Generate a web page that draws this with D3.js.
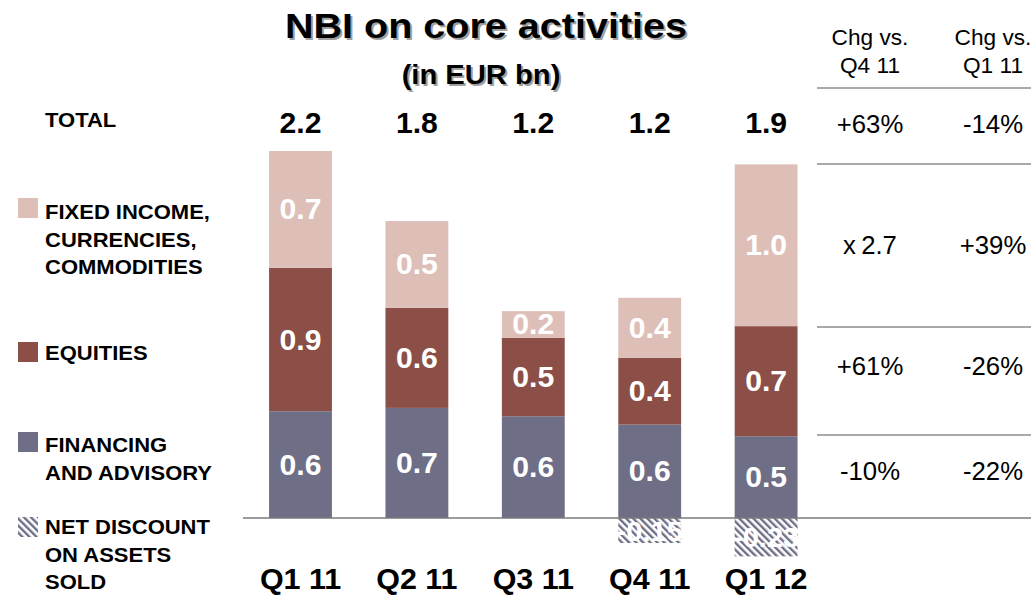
<!DOCTYPE html>
<html>
<head>
<meta charset="utf-8">
<script src="https://cdn.jsdelivr.net/npm/d3@7"></script>
<style>
  body { margin: 0; background: #fff; }
  svg { font-family: "Liberation Sans", Arial, sans-serif; }
</style>
</head>
<body>
<svg id="chart" width="1031" height="595"></svg>
<script>
// values (EUR bn)
var quarters = ["Q1 11", "Q2 11", "Q3 11", "Q4 11", "Q1 12"];
var financing = [0.64, 0.66, 0.61, 0.56, 0.49];
var equities = [0.86, 0.60, 0.47, 0.40, 0.66];
var fixedIncome = [0.70, 0.52, 0.16, 0.36, 0.97];
var netDiscount = [0, 0, 0, -0.15, -0.23];

var chgHeaders = [["Chg vs.", "Q4 11"], ["Chg vs.", "Q1 11"]];
var chgVsQ4 = ["+63%", "x\u20092.7", "+61%", "-10%"];
var chgVsQ1 = ["-14%", "+39%", "-26%", "-22%"];

var legendItems = [
    {key: "fixed", lines: ["FIXED INCOME,", "CURRENCIES,", "COMMODITIES"]},
    {key: "equities", lines: ["EQUITIES"]},
    {key: "financing", lines: ["FINANCING", "AND ADVISORY"]},
    {key: "discount", lines: ["NET DISCOUNT", "ON ASSETS", "SOLD"]}
];

var colors = {fixed: "#ddbfb7", equities: "#8b4f47", financing: "#6e6e87", discount: "url(#hatch)"};

var svg = d3.select("#chart");

// hatch for the net discount bars
var pat = svg.append("defs").append("pattern")
    .attr("id", "hatch")
    .attr("patternUnits", "userSpaceOnUse")
    .attr("width", 5).attr("height", 5)
    .attr("patternTransform", "rotate(-45)");
pat.append("rect").attr("width", 5).attr("height", 5).attr("fill", "#fff");
pat.append("rect").attr("width", 2.4).attr("height", 5).attr("fill", "#6e6e87");

function stretchText(g, x, y, txt, size, weight, anchor, sx, fill)
{
    return g.append("text")
        .attr("transform", "translate(" + x + "," + y + ") scale(" + sx + ",1)")
        .style("font-size", size + "px")
        .style("font-weight", weight)
        .style("text-anchor", anchor)
        .attr("fill", fill || "#000")
        .text(txt);
}

var x = d3.scaleBand()
    .domain(quarters)
    .range([242.3, 824.3])
    .paddingInner(0.46)
    .paddingOuter(0.23);

var y = d3.scaleLinear()
    .domain([0, 2.2])
    .range([518, 151]);

// title with soft shadow
var title = svg.append("g");
[["#a0a0a0", 2], ["#000", 0]].forEach(function (s) {
    stretchText(title, 486 + s[1], 38 + s[1], "NBI on core activities", 35, "bold", "middle", 1.13, s[0]);
    stretchText(title, 481 + s[1], 84 + s[1], "(in EUR bn)", 27, "bold", "middle", 1.08, s[0]);
});

// stacked bars
var table = quarters.map(function (q, i) {
    return {q: q, financing: financing[i], equities: equities[i], fixed: fixedIncome[i]};
});
var series = d3.stack().keys(["financing", "equities", "fixed"])(table);

var bars = svg.append("g");
series.forEach(function (s) {
    var g = bars.append("g");
    g.selectAll("rect")
        .data(s)
        .enter()
        .append("rect")
        .attr("x", function (d) { return x(d.data.q); })
        .attr("y", function (d) { return y(d[1]); })
        .attr("width", x.bandwidth())
        .attr("height", function (d) { return y(d[0]) - y(d[1]); })
        .attr("fill", colors[s.key]);
});

// negative bars
bars.append("g").selectAll("rect")
    .data(quarters.filter(function (q, i) { return netDiscount[i] < 0; }))
    .enter()
    .append("rect")
    .attr("x", function (q) { return x(q); })
    .attr("y", y(0))
    .attr("width", x.bandwidth())
    .attr("height", function (q) { return y(netDiscount[quarters.indexOf(q)]) - y(0); })
    .attr("fill", colors.discount);

// segment labels
var labels = svg.append("g");
series.forEach(function (s) {
    s.forEach(function (d) {
        var cy = (y(d[0]) + y(d[1])) / 2;
        stretchText(labels, x(d.data.q) + x.bandwidth() / 2, cy + 10, d3.format(".1f")(d[1] - d[0]),
            29, "bold", "middle", 1.04, "#fff");
    });
});
quarters.forEach(function (q, i) {
    if (netDiscount[i] < 0) {
        var cy = (y(0) + y(netDiscount[i])) / 2;
        stretchText(labels, x(q) + x.bandwidth() / 2, cy + 10, "-" + Math.abs(netDiscount[i]).toFixed(2),
            28, "bold", "middle", 1.04, "#fff");
    }
});

// totals row
var totals = svg.append("g");
stretchText(totals, 45, 127, "TOTAL", 20, "bold", "start", 1.1);
quarters.forEach(function (q, i) {
    var t = financing[i] + equities[i] + fixedIncome[i] + netDiscount[i];
    stretchText(totals, x(q) + x.bandwidth() / 2, 133, d3.format(".1f")(t), 29, "bold", "middle", 1.04);
});

// base line
svg.append("line")
    .attr("x1", 243).attr("x2", 1031)
    .attr("y1", y(0)).attr("y2", y(0))
    .attr("stroke", "#7a7a7a").attr("stroke-width", 1.5);

// category axis
var axis = svg.append("g")
    .attr("transform", "translate(0," + y(0) + ")")
    .call(d3.axisBottom(x).tickSize(0).tickPadding(50));
axis.select(".domain").remove();
axis.selectAll("text")
    .attr("transform", "scale(1.05,1)")
    .style("font-size", "29px")
    .style("font-weight", "bold")
    .style("font-family", "'Liberation Sans', Arial, sans-serif")
    .attr("fill", "#000");

// legend
var legendTops = [198, 342, 432, 517];
var legendBase = [219, 360, 452, 534];
var legend = svg.append("g");
legendItems.forEach(function (item, i) {
    legend.append("rect")
        .attr("x", 18).attr("y", legendTops[i])
        .attr("width", 20).attr("height", 20)
        .attr("fill", colors[item.key]);
    item.lines.forEach(function (line, j) {
        stretchText(legend, 45, legendBase[i] + j * 27.5, line, 20, "bold", "start", 1.1);
    });
});

// change table on the right
var colX = [870, 993];
var rowBase = [133, 254, 375, 480];
var ruleY = [88, 164, 327, 435];
var side = svg.append("g");
chgHeaders.forEach(function (h, c) {
    stretchText(side, colX[c], 45, h[0], 22, "normal", "middle", 1.03);
    stretchText(side, colX[c], 73, h[1], 22, "normal", "middle", 1.03);
});
ruleY.forEach(function (ry) {
    side.append("line")
        .attr("x1", 817).attr("x2", 1031)
        .attr("y1", ry).attr("y2", ry)
        .attr("stroke", "#555").attr("stroke-width", 1.2);
});
[chgVsQ4, chgVsQ1].forEach(function (col, c) {
    col.forEach(function (v, r) {
        stretchText(side, colX[c], rowBase[r], v, 25, "normal", "middle", 1.03);
    });
});
</script>
</body>
</html>
